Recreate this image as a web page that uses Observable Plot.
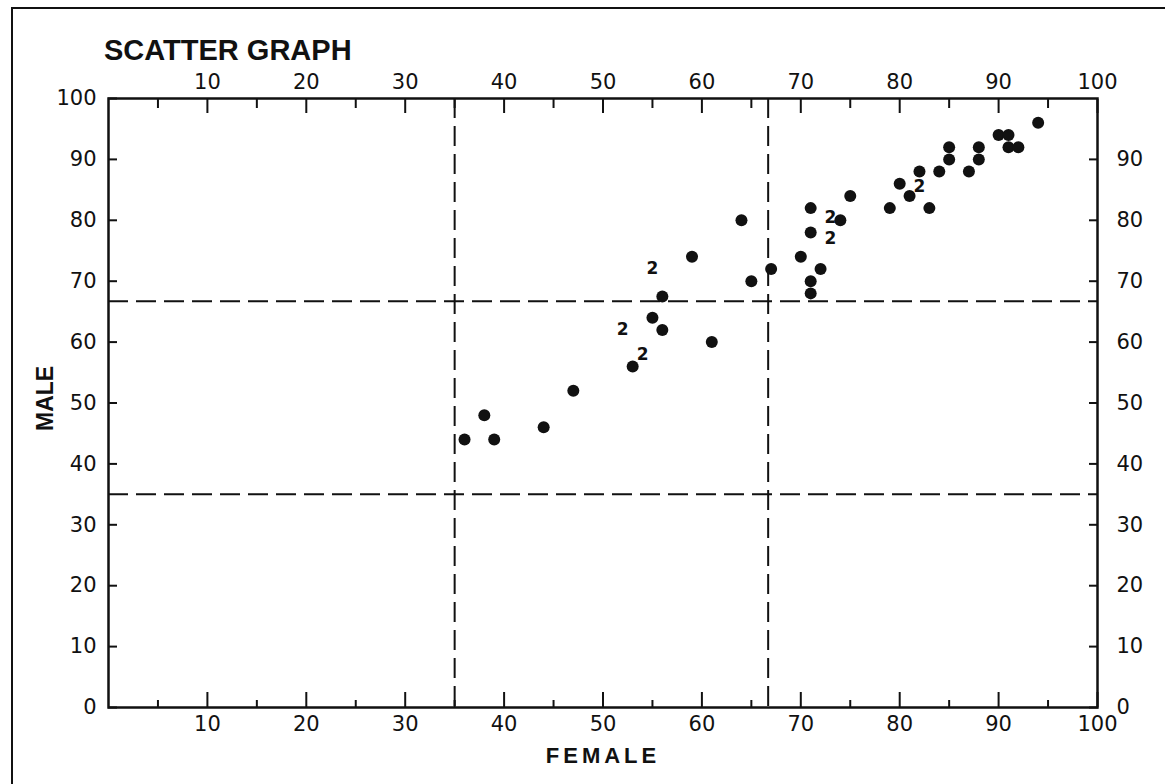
<!DOCTYPE html>
<html><head><meta charset="utf-8">
<script src="https://cdn.jsdelivr.net/npm/d3@7"></script>
<script src="https://cdn.jsdelivr.net/npm/@observablehq/plot@0.6"></script>
<style>
body{margin:0;background:#fff;width:1165px;height:784px;overflow:hidden;position:relative;font-family:"Liberation Sans",Arial,sans-serif;color:#111;}
#border{position:absolute;left:11px;top:7px;width:1170px;height:800px;border-top:2px solid #111;border-left:2px solid #111;pointer-events:none;}
#title{height:60px;box-sizing:border-box;padding-left:104px;padding-top:36px;font-size:29px;font-weight:bold;line-height:1;}
#chart svg{display:block;}
#chart svg g[aria-label$="tick label"]{font-size:21px;}
</style></head><body>
<div id="border"></div>
<div id="title">SCATTER GRAPH</div>
<div id="chart"></div>
<script>
// single observations (female %, male %)
const femaleX = [36, 38, 39, 44, 47, 53, 55, 56, 56, 59, 61, 64, 65, 67, 70, 71, 71, 71, 71, 72, 74, 75, 79, 80, 81, 82, 83, 84, 85, 85, 87, 88, 88, 90, 91, 91, 92, 94];
const maleY   = [44, 48, 44, 46, 52, 56, 64, 62, 67.5, 74, 60, 80, 70, 72, 74, 82, 78, 70, 68, 72, 80, 84, 82, 86, 84, 88, 82, 88, 92, 90, 88, 92, 90, 94, 94, 92, 92, 96];
// coincident observations plotted as a count
const pairX = [55, 52, 54, 73, 73, 82];
const pairY = [72, 62, 58, 80.4, 77, 85.5];
const pairCount = [2, 2, 2, 2, 2, 2];
// dashed reference lines
const refLines = [35, 66.7];
// tick values
const majorTicks = [10, 20, 30, 40, 50, 60, 70, 80, 90, 100];
const minorTicks = [5, 15, 25, 35, 45, 55, 65, 75, 85, 95];
const leftTicks = [0, 10, 20, 30, 40, 50, 60, 70, 80, 90, 100];
const rightTicks = [0, 10, 20, 30, 40, 50, 60, 70, 80, 90];

const points = femaleX.map((x, i) => ({female: x, male: maleY[i]}));
const pairs = pairX.map((x, i) => ({female: x, male: pairY[i], n: pairCount[i]}));

const ink = "#111";
const plot = Plot.plot({
  width: 1165, height: 724,
  marginTop: 38, marginBottom: 77, marginLeft: 108, marginRight: 68,
  x: {domain: [0, 100], axis: null},
  y: {domain: [0, 100], axis: null},
  style: {fontFamily: "DejaVu Sans, sans-serif", fontSize: "20px", color: ink, background: "#fff"},
  marks: [
    Plot.ruleX(refLines, {stroke: ink, strokeWidth: 2, strokeDasharray: "20,8"}),
    Plot.ruleY(refLines, {stroke: ink, strokeWidth: 2, strokeDasharray: "20,8"}),
    Plot.frame({stroke: ink, strokeWidth: 2.5}),
    Plot.axisX(majorTicks, {anchor: "bottom", tickSize: -15, tickPadding: 24, strokeWidth: 2, fontSize: 21, label: null, tickFormat: d => String(d)}),
    Plot.axisX(minorTicks, {anchor: "bottom", tickSize: -7, strokeWidth: 2, label: null, tickFormat: () => ""}),
    Plot.axisX(majorTicks, {anchor: "top", tickSize: -14, tickPadding: 24, strokeWidth: 2, fontSize: 21, label: null, tickFormat: d => String(d)}),
    Plot.axisX(minorTicks, {anchor: "top", tickSize: -9, strokeWidth: 2, label: null, tickFormat: () => ""}),
    Plot.axisY(leftTicks, {anchor: "left", tickSize: -9, tickPadding: 21, strokeWidth: 2, fontSize: 21, label: null, tickFormat: d => String(d)}),
    Plot.axisY(rightTicks, {anchor: "right", tickSize: -9, tickPadding: 28, strokeWidth: 2, fontSize: 21, label: null, tickFormat: d => String(d)}),
    Plot.dot(points, {x: "female", y: "male", r: 6, fill: ink, stroke: null}),
    Plot.text(pairs, {x: "female", y: "male", text: d => String(d.n), fontSize: 17, fontWeight: 600, fill: ink}),
    Plot.text(["FEMALE"], {frameAnchor: "bottom", dy: 55, text: d => d, fontSize: 22, fontWeight: "bold", fontFamily: "Liberation Sans, Arial, sans-serif", fill: ink}),
    Plot.text(["MALE"], {frameAnchor: "left", dx: -63, dy: 28, rotate: -90, text: d => d, fontSize: 23, fontWeight: "bold", fontFamily: "Liberation Sans, Arial, sans-serif", fill: ink})
  ]
});
d3.select(plot).selectAll("text").filter(function() { return this.textContent === "FEMALE"; }).attr("letter-spacing", "4px");
document.getElementById("chart").appendChild(plot);
</script>
</body></html>
